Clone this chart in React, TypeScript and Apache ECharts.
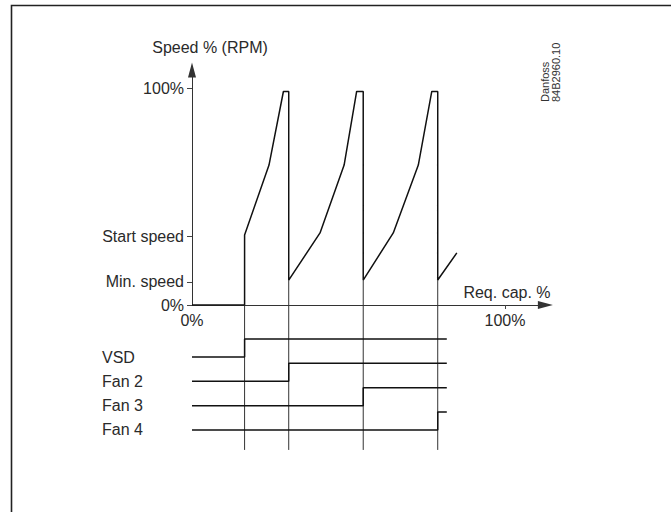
import React, { useEffect, useRef } from "react";
import * as echarts from "echarts";

// Speed curve (x: required capacity %, y: speed %)
const curveX = [0, 16.8, 16.8, 24.6, 29.2, 30.9, 30.9, 40.9, 48.6, 52.6, 54.7, 54.7, 64.3, 72.3, 76.6, 78.5, 78.5, 84.6];
const curveY = [0, 0, 32.3, 64.5, 98.4, 98.4, 11.5, 33.2, 64.5, 98.4, 98.4, 11.5, 33.2, 64.5, 98.4, 98.4, 11.5, 24];

// speed axis ticks
const speedTickValues = [0, 10.6, 31.5, 100];
const speedTickLabels = ["0%", "Min. speed", "Start speed", "100%"];
const capTickValues = [0, 100];
const capTickLabels = ["0%", "100%"];

// fans: name, row, switch-on point
const fanNames = ["VSD", "Fan 2", "Fan 3", "Fan 4"];
const fanRows = [4, 3, 2, 1];
const fanSwitchX = [16.8, 30.9, 54.7, 78.5];
const fanOnStep = 0.74;
const fanEndX = 81.4;
const minSpeedPoint = 11.5;

const FONT = "Liberation Sans, Arial, sans-serif";
const TXT = "#2a2a2a";

export default function App() {
  const ref = useRef<HTMLDivElement>(null);
  useEffect(() => {
    if (!ref.current) return;
    const chart = echarts.init(ref.current, null, { renderer: "svg" });
    const xMax = 112.9;
    const grids = [
      { left: 192, right: 125.6, top: 70, bottom: 207 },
      { left: 192, right: 125.6, top: 305, bottom: 57.7 },
    ];
    const lineBlack = { color: "#111", width: 1.5 };
    const series: any[] = [];
    series.push({
      type: "line",
      xAxisIndex: 0,
      yAxisIndex: 0,
      symbol: "none",
      lineStyle: lineBlack,
      data: curveX.map((x, i) => [x, curveY[i]]),
      z: 5,
    });
    // guide lines in top grid (min speed down to 0)
    fanSwitchX.slice(1).forEach((x) => {
      series.push({
        type: "line",
        xAxisIndex: 0,
        yAxisIndex: 0,
        symbol: "none",
        lineStyle: { color: "#333", width: 1 },
        data: [[x, minSpeedPoint], [x, 0]],
      });
    });
    // guide lines in bottom grid
    fanSwitchX.forEach((x) => {
      series.push({
        type: "line",
        xAxisIndex: 1,
        yAxisIndex: 1,
        symbol: "none",
        lineStyle: { color: "#333", width: 1 },
        data: [[x, 6.14], [x, 0.18]],
      });
    });
    // fan step lines
    fanRows.forEach((row, i) => {
      const sx = fanSwitchX[i];
      series.push({
        type: "line",
        xAxisIndex: 1,
        yAxisIndex: 1,
        symbol: "none",
        lineStyle: lineBlack,
        data: [[0, row], [sx, row], [sx, row + fanOnStep], [fanEndX, row + fanOnStep]],
        z: 5,
      });
    });

    chart.setOption({
      animation: false,
      backgroundColor: "#fff",
      grid: grids,
      xAxis: [
        {
          type: "value",
          gridIndex: 0,
          min: 0,
          max: xMax,
          splitLine: { show: false },
          axisLine: {
            lineStyle: { color: "#333", width: 1 },
            symbol: ["none", "triangle"],
            symbolSize: [8, 15],
          },
          axisTick: { show: true, customValues: [100], length: 4, lineStyle: { color: "#444" } },
          axisLabel: {
            customValues: capTickValues,
            formatter: (v: number) => capTickLabels[capTickValues.indexOf(v)] ?? "",
            fontSize: 16,
            fontFamily: FONT,
            color: TXT,
            margin: 7,
          },
          name: "Req. cap. %",
          nameLocation: "end",
          nameGap: -82,
          nameTextStyle: {
            fontSize: 16,
            fontFamily: FONT,
            color: TXT,
            verticalAlign: "bottom",
            lineHeight: 16,
            padding: [0, 0, 5, 0],
          },
        },
        {
          type: "value",
          gridIndex: 1,
          min: 0,
          max: xMax,
          show: false,
        },
      ],
      yAxis: [
        {
          type: "value",
          gridIndex: 0,
          min: 0,
          max: 108.3,
          splitLine: { show: false },
          axisLine: {
            show: true,
            lineStyle: { color: "#333", width: 1 },
            symbol: ["none", "triangle"],
            symbolSize: [8, 15],
          },
          axisTick: { show: true, customValues: speedTickValues, length: 5, lineStyle: { color: "#444" } },
          axisLabel: {
            customValues: speedTickValues,
            formatter: (v: number) => speedTickLabels[speedTickValues.indexOf(v)] ?? "",
            fontSize: 16,
            fontFamily: FONT,
            color: TXT,
            margin: 8,
          },
          name: "Speed % (RPM)",
          nameLocation: "end",
          nameGap: 15,
          nameTextStyle: {
            fontSize: 16,
            fontFamily: FONT,
            color: TXT,
            padding: [0, 0, 0, 36],
          },
        },
        {
          type: "value",
          gridIndex: 1,
          min: 0,
          max: 6.14,
          splitLine: { show: false },
          axisLine: { show: false },
          axisTick: { show: false },
          axisLabel: {
            customValues: fanRows,
            formatter: (v: number) => fanNames[fanRows.indexOf(v)] ?? "",
            fontSize: 16,
            fontFamily: FONT,
            color: TXT,
            align: "left",
            margin: 90,
          },
        },
      ],
      series,
      graphic: [
        {
          type: "polyline",
          shape: { points: [[11.5, 512], [11.5, 5.5], [671, 5.5]] },
          style: { stroke: "#222", lineWidth: 1.6, fill: "none" },
          silent: true,
        },
        {
          type: "text",
          x: 545,
          y: 102,
          rotation: Math.PI / 2,
          style: {
            text: "Danfoss",
            fontSize: 11,
            fontFamily: FONT,
            fill: "#333",
            textAlign: "left",
            textVerticalAlign: "middle",
          },
        },
        {
          type: "text",
          x: 556,
          y: 102,
          rotation: Math.PI / 2,
          style: {
            text: "84B2960.10",
            fontSize: 11,
            fontFamily: FONT,
            fill: "#333",
            textAlign: "left",
            textVerticalAlign: "middle",
          },
        },
      ],
    });
    return () => chart.dispose();
  }, []);
  return (
    <div
      ref={ref}
      style={{ position: "fixed", left: 0, top: 0, width: 671, height: 512 }}
    />
  );
}
